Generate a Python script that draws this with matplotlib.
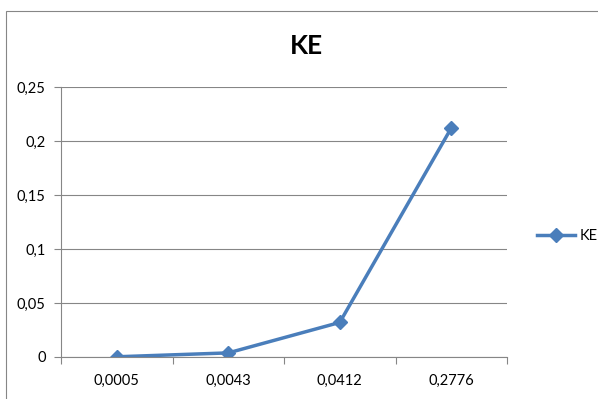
import matplotlib.pyplot as plt
from matplotlib.patches import Rectangle
import numpy as np

# datos de la serie
categorias = ["0,0005", "0,0043", "0,0412", "0,2776"]
ke = [0.0002, 0.0038, 0.032, 0.212]
yticks = [0, 0.05, 0.1, 0.15, 0.2, 0.25]
ylabels = ["0", "0,05", "0,1", "0,15", "0,2", "0,25"]

plt.rcParams['font.family'] = ['Lato', 'DejaVu Sans']
gris = "#868686"
azul = "#4A7EBB"

fig = plt.figure(figsize=(5.98, 3.99), dpi=100)

# marco del grafico
fig.patches.append(Rectangle((6 / 598, -0.05), 1.0, (399 - 11) / 399 + 0.05,
                             transform=fig.transFigure, fill=False,
                             edgecolor=gris, linewidth=0.8))

ax = fig.add_axes([61 / 598, 42 / 399, 446 / 598, 270 / 399])

x = np.arange(len(categorias))
ax.plot(x, ke, "D-", color=azul, linewidth=2.5, markersize=7, label="KE")

ax.set_xlim(-0.5, len(categorias) - 0.5)
ax.set_ylim(0, 0.25)
ax.set_yticks(yticks)
ax.set_yticklabels(ylabels)
ax.set_xticks(x)
ax.set_xticklabels(categorias)
ax.set_xticks(np.arange(len(categorias) + 1) - 0.5, minor=True)
ax.tick_params(axis="x", which="major", length=0, pad=12, labelsize=10.5)
ax.tick_params(axis="x", which="minor", length=5, color=gris, width=0.8)
ax.tick_params(axis="y", length=5, color=gris, width=0.8, pad=6, labelsize=10.5)

ax.grid(axis="y", color=gris, linewidth=0.8)
ax.set_axisbelow(True)
for lado in ["top", "right"]:
    ax.spines[lado].set_visible(False)
for lado in ["left", "bottom"]:
    ax.spines[lado].set_color(gris)
    ax.spines[lado].set_linewidth(0.8)

fig.text(306 / 598, 1 - 46 / 399, "KE", ha="center", va="center",
         fontsize=19, fontweight="bold")

fig.legend(loc="center left", bbox_to_anchor=(524 / 598, 1 - 236 / 399),
           frameon=False, fontsize=10.5, handlelength=2.6, handletextpad=0.3)

fig.savefig("out.png", dpi=100)
